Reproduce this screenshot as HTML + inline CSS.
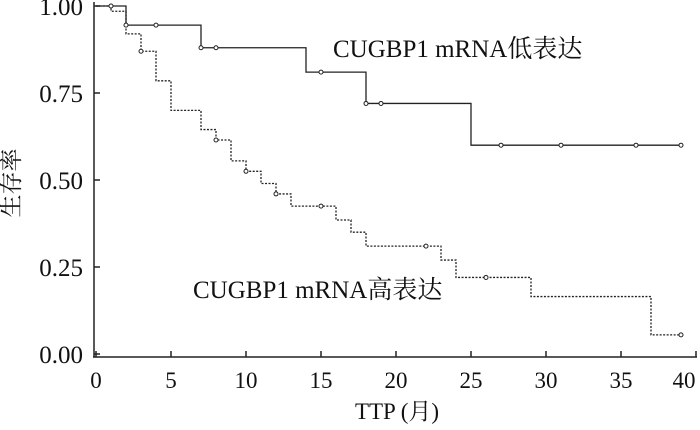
<!DOCTYPE html>
<html><head><meta charset="utf-8"><style>
body{margin:0;background:#fff;}
text{font-family:"Liberation Serif","Noto Serif CJK SC",serif;fill:#111;}
</style></head><body>
<svg id="chart" width="700" height="425" viewBox="0 0 700 425">
<g id="axes"></g><g id="series"></g>
<text x="19" y="183" font-size="23" transform="rotate(-90 19 183)" text-anchor="middle">生存率</text>
<text x="397" y="419" font-size="23" text-anchor="middle">TTP (月)</text>
<text x="333" y="57" font-size="25">CUGBP1 mRNA低表达</text>
<text x="193" y="298" font-size="25">CUGBP1 mRNA高表达</text>
</svg>
<script>
const xTicks=[0,5,10,15,20,25,30,35,40];
const yTicks=[0,0.25,0.5,0.75,1.0];
const yTickLabels=["0.00","0.25","0.50","0.75","1.00"];
const lowTimes=[0,2,7,14,18,25,39];
const lowSurv=[1.0,0.945,0.88,0.81,0.72,0.60,0.60];
const lowCensT=[1,2,4,7,8,15,18,19,27,31,36,39];
const lowCensS=[1.0,0.945,0.945,0.88,0.88,0.81,0.72,0.72,0.60,0.60,0.60,0.60];
const highTimes=[0,1,2,3,4,5,7,8,9,10,11,12,13,16,17,18,23,24,29,37,39];
const highSurv=[1.0,0.985,0.92,0.87,0.785,0.70,0.645,0.615,0.555,0.525,0.49,0.46,0.425,0.385,0.35,0.31,0.27,0.22,0.165,0.055,0.055];
const highCensT=[3,8,10,12,15,22,26,39];
const highCensS=[0.87,0.615,0.525,0.46,0.425,0.31,0.22,0.055];
const NS="http://www.w3.org/2000/svg";
const X=t=>96+t*15, Y=s=>354-s*348;
function mk(tag,attrs,parent){const e=document.createElementNS(NS,tag);for(const k in attrs)e.setAttribute(k,attrs[k]);parent.appendChild(e);return e;}
const ax=document.getElementById('axes'), se=document.getElementById('series');
let l=mk('line',{x1:94,y1:2,x2:94,y2:357,stroke:'#222','stroke-width':1.5},ax);


l=mk('line',{x1:93,y1:357,x2:697,y2:357,stroke:'#222','stroke-width':1.5},ax);


xTicks.forEach(t=>{
 const tk=mk('line',{x1:X(t),y1:351,x2:X(t),y2:357,stroke:'#222','stroke-width':1.5},ax);
 
 
 const tx=mk('text',{x:t===40?684:X(t),y:388,'font-size':23,'text-anchor':'middle'},ax);tx.textContent=t;
 
 
});
yTicks.forEach((v,i)=>{
 const tk=mk('line',{x1:94,y1:Y(v),x2:100,y2:Y(v),stroke:'#222','stroke-width':1.5},ax);
 
 
 const tx=mk('text',{x:83,y:Y(v)+9,'font-size':25,'text-anchor':'end'},ax);tx.textContent=yTickLabels[i];
 
 
});
function stepPath(T,S){let d=`M${X(T[0])},${Y(S[0])}`;for(let i=1;i<T.length;i++){d+=`H${X(T[i])}V${Y(S[i])}`;}return d;}
let p=mk('path',{d:stepPath(lowTimes,lowSurv),fill:'none',stroke:'#222','stroke-width':1.3},se);


p=mk('path',{d:stepPath(highTimes,highSurv),fill:'none',stroke:'#222','stroke-width':1.3,'stroke-dasharray':'2,1.5'},se);


lowCensT.forEach((t,i)=>{const c=mk('circle',{cx:X(t),cy:Y(lowCensS[i]),r:2,fill:'#fff',stroke:'#222','stroke-width':1},se);
 
 });
highCensT.forEach((t,i)=>{const c=mk('circle',{cx:X(t),cy:Y(highCensS[i]),r:2,fill:'#fff',stroke:'#222','stroke-width':1},se);
 
 });
</script>
</body></html>
